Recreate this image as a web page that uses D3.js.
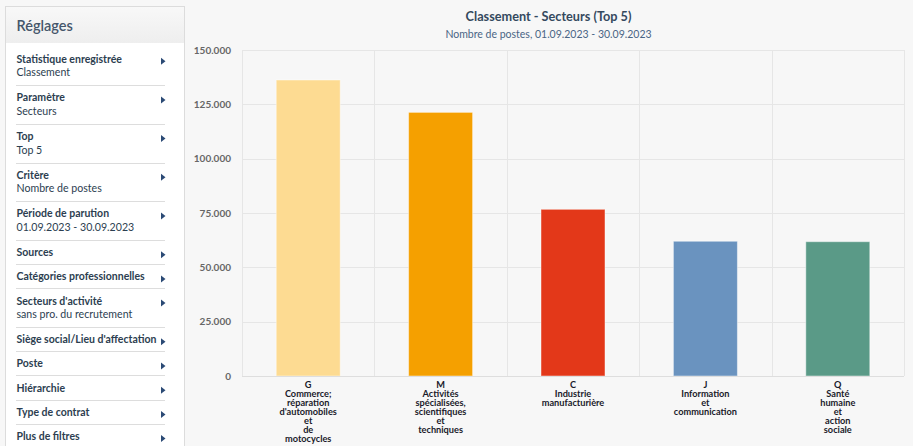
<!DOCTYPE html>
<html><head><meta charset="utf-8">
<script src="https://cdn.jsdelivr.net/npm/d3@7"></script>
<style>
html,body{margin:0;padding:0;background:#f7f7f7;}
svg{display:block;font-family:Lato,"Open Sans",sans-serif;}
</style></head>
<body>
<svg id="c" width="913" height="446"></svg>
<script>
// ---- data ----
const codes = ["G", "M", "C", "J", "Q"];
const categoryLines = [
  ["Commerce;", "réparation", "d'automobiles", "et", "de", "motocycles"],
  ["Activités", "spécialisées,", "scientifiques", "et", "techniques"],
  ["Industrie", "manufacturière"],
  ["Information", "et", "communication"],
  ["Santé", "humaine", "et", "action", "sociale"]
];
const values = [136200, 121300, 76700, 62000, 61800];
const yTicks = [0, 25000, 50000, 75000, 100000, 125000, 150000];
const palette = ["#fddb92", "#f5a000", "#e33819", "#6a93bf", "#5a9a87"];
const title = "Classement - Secteurs (Top 5)";
const subtitle = "Nombre de postes, 01.09.2023 - 30.09.2023";
const settingsLabels = ["Statistique enregistrée", "Paramètre", "Top", "Critère", "Période de parution",
  "Sources", "Catégories professionnelles", "Secteurs d'activité", "Siège social/Lieu d'affectation",
  "Poste", "Hiérarchie", "Type de contrat", "Plus de filtres"];
const settingsValues = ["Classement", "Secteurs", "Top 5", "Nombre de postes", "01.09.2023 - 30.09.2023",
  "", "", "sans pro. du recrutement", "", "", "", "", ""];

(function () {
const svg = d3.select("#c");
const locale = d3.formatLocale({decimal: ",", thousands: ".", grouping: [3], currency: ["", "€"]});
const fmt = locale.format(",");

// ---- sidebar ----
const side = svg.append("g");
const defs = svg.append("defs");
const grad = defs.append("linearGradient").attr("id", "hg").attr("x1", 0).attr("y1", 0).attr("x2", 0).attr("y2", 1);
grad.append("stop").attr("offset", "0%").attr("stop-color", "#f8f8f8");
grad.append("stop").attr("offset", "100%").attr("stop-color", "#eeeeee");
side.append("rect").attr("x", 5.5).attr("y", 6.5).attr("width", 179).attr("height", 460)
  .attr("fill", "#ffffff").attr("stroke", "#dcdcdc");
side.append("rect").attr("x", 6).attr("y", 7).attr("width", 178).attr("height", 36).attr("fill", "url(#hg)");
side.append("text").attr("x", 16.5).attr("y", 25.7).attr("dy", "0.35em").attr("font-size", 14.5).attr("fill", "#45566b")
  .attr("font-weight", 600).text("Réglages");

let y = 47.5;
settingsLabels.forEach((lab, i) => {
  const hasVal = settingsValues[i] !== "";
  const h = hasVal ? 38.7 : 24.2;
  const ly = y + 11.5;
  side.append("text").attr("x", 16.5).attr("y", ly).attr("dy", "0.35em").attr("font-size", 10.5)
    .attr("font-weight", 700).attr("fill", "#2c3e50").text(lab);
  if (hasVal) side.append("text").attr("x", 16.5).attr("y", ly + 13.6).attr("dy", "0.35em").attr("font-size", 10.6)
    .attr("fill", "#2c3e50").text(settingsValues[i]);
  const ay = ly + 2.2;
  side.append("path").attr("d", `M161,${ay - 3.5} L165.5,${ay} L161,${ay + 3.5} Z`).attr("fill", "#2b4a75");
  y += h;
  side.append("line").attr("x1", 16).attr("x2", 165).attr("y1", Math.round(y - 1) + 0.5).attr("y2", Math.round(y - 1) + 0.5)
    .attr("stroke", "#dddddd");
});

// ---- chart ----
const pLeft = 242, pRight = 904, pTop = 50, pBottom = 376;
const x = d3.scaleBand().domain(codes).range([pLeft, pRight]).paddingInner(0).paddingOuter(0);
const yS = d3.scaleLinear().domain([0, 150000]).range([pBottom, pTop]);

svg.append("text").attr("x", 548.5).attr("y", 16.5).attr("dy", "0.35em").attr("text-anchor", "middle")
  .attr("font-size", 12.7).attr("font-weight", 700).attr("fill", "#34495e").text(title);
svg.append("text").attr("x", 548.5).attr("y", 34).attr("dy", "0.35em").attr("text-anchor", "middle")
  .attr("font-size", 10.5).attr("fill", "#4a6585").text(subtitle);

const grid = svg.append("g");
grid.selectAll("line.h").data(yTicks).join("line").attr("class", "h")
  .attr("x1", pLeft).attr("x2", pRight).attr("y1", d => Math.round(yS(d)) + 0.5).attr("y2", d => Math.round(yS(d)) + 0.5)
  .attr("stroke", "#e6e6e6");
const vlines = codes.map(c => x(c)).concat([pRight]);
grid.selectAll("line.v").data(vlines).join("line").attr("class", "v")
  .attr("x1", d => Math.round(d) + 0.5).attr("x2", d => Math.round(d) + 0.5).attr("y1", pTop).attr("y2", pBottom)
  .attr("stroke", "#e6e6e6");

const yAxis = d3.axisLeft(yS).tickValues(yTicks).tickFormat(fmt).tickSize(0).tickPadding(11);
const ya = svg.append("g").attr("transform", `translate(${pLeft},0)`).call(yAxis);
ya.select(".domain").remove();
ya.selectAll("text").attr("font-family", "Lato, sans-serif").attr("font-size", 10).attr("font-weight", 700).attr("fill", "#666666");

const bw = 64;
svg.append("g").selectAll("rect").data(values).join("rect")
  .attr("x", (d, i) => x(codes[i]) + x.bandwidth() / 2 - bw / 2)
  .attr("y", d => yS(d))
  .attr("width", bw)
  .attr("height", d => pBottom - yS(d))
  .attr("fill", (d, i) => palette[i])
  .attr("stroke", "rgba(255,255,255,0.45)").attr("stroke-width", 1);

svg.append("line").attr("x1", pLeft).attr("x2", pRight).attr("y1", pBottom + 0.5).attr("y2", pBottom + 0.5).attr("stroke", "#dedede");

const xl = svg.append("g");
codes.forEach((c, i) => {
  const t = xl.append("text").attr("text-anchor", "middle").attr("font-size", 9.2).attr("font-weight", 700).attr("fill", "#1a1a2a");
  const cx = x(c) + x.bandwidth() / 2;
  [c].concat(categoryLines[i]).forEach((line, k) => {
    t.append("tspan").attr("x", cx).attr("y", 385 + k * 9).attr("dy", "0.35em").text(line);
  });
});
})();
</script>
</body></html>
